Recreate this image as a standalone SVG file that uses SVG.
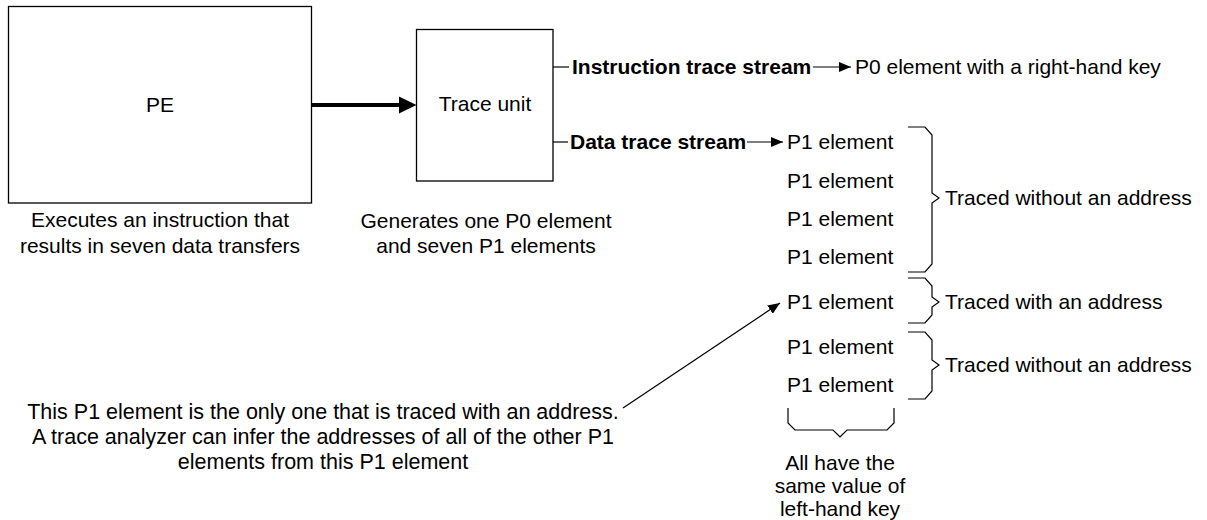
<svg xmlns="http://www.w3.org/2000/svg" width="1207" height="520" viewBox="0 0 1207 520">
  <style>
    text { font-family: "Liberation Sans", Arial, sans-serif; font-size: 21px; fill: #000; }
    .b { font-weight: bold; }
    .m { text-anchor: middle; }
    .n { font-size: 21.5px; }
    .box { fill: #fff; stroke: #000; stroke-width: 1.3; }
    .ln { fill: none; stroke: #000; stroke-width: 1.2; }
    .br { fill: none; stroke: #000; stroke-width: 1.2; stroke-linejoin: miter; }
  </style>
  <defs>
    <marker id="ah" viewBox="0 0 12 10" refX="12" refY="5" markerWidth="12" markerHeight="10" markerUnits="userSpaceOnUse" orient="auto">
      <path d="M0,0 L12,5 L0,10 z" fill="#000"/>
    </marker>
  </defs>
  <rect width="1207" height="520" fill="#fff"/>

  <g id="pe">
    <rect class="box" x="8.5" y="6.5" width="303" height="196.5"/>
    <text class="m" x="160" y="112">PE</text>
    <text class="m" x="160" y="227">Executes an instruction that</text>
    <text class="m" x="160" y="253">results in seven data transfers</text>
  </g>

  <g id="trace-unit">
    <rect class="box" x="416.5" y="29.5" width="136.5" height="151.5"/>
    <text class="m" x="485" y="111">Trace unit</text>
    <text class="m" x="486" y="228">Generates one P0 element</text>
    <text class="m" x="486" y="253">and seven P1 elements</text>
  </g>

  <g id="streams">
    <text class="b" x="572" y="74">Instruction trace stream</text>
    <text x="855" y="74">P0 element with a right-hand key</text>
    <text class="b" x="570" y="149">Data trace stream</text>
  </g>

  <g id="p1-elements">
    <text x="787" y="149">P1 element</text>
    <text x="787" y="188">P1 element</text>
    <text x="787" y="226">P1 element</text>
    <text x="787" y="264">P1 element</text>
    <text x="787" y="309">P1 element</text>
    <text x="787" y="354">P1 element</text>
    <text x="787" y="392">P1 element</text>
  </g>

  <g id="brace-labels">
    <path class="br" d="M908,127 H925 L932,135 V193 L939,198 L932,203 V264 L925,272 H908"/>
    <text x="945" y="205">Traced without an address</text>
    <path class="br" d="M908,278 H925 L932,286 V297 L939,302 L932,307 V315 L925,323 H908"/>
    <text x="945" y="309">Traced with an address</text>
    <path class="br" d="M908,332 H925 L932,340 V360 L939,365 L932,370 V391 L925,399 H908"/>
    <text x="945" y="372">Traced without an address</text>
    <path class="br" d="M788,408 V423 L795,430 H833 L840,437 L847,430 H887 L894,423 V408"/>
    <text class="m" x="840" y="470">All have the</text>
    <text class="m" x="840" y="493">same value of</text>
    <text class="m" x="840" y="516">left-hand key</text>
  </g>

  <g id="note">
    <text class="m n" x="323" y="419">This P1 element is the only one that is traced with an address.</text>
    <text class="m n" x="323" y="444">A trace analyzer can infer the addresses of all of the other P1</text>
    <text class="m n" x="323" y="469">elements from this P1 element</text>
  </g>

  <g id="connectors">
    <line x1="311.5" y1="105" x2="400" y2="105" stroke="#000" stroke-width="4"/>
    <path d="M399,96.5 L416.5,105 L399,113.5 z" fill="#000"/>
    <line class="ln" x1="553" y1="67" x2="569" y2="67"/>
    <line class="ln" x1="553" y1="142" x2="568" y2="142"/>
    <line class="ln" x1="813" y1="67" x2="851" y2="67" marker-end="url(#ah)"/>
    <line class="ln" x1="747" y1="142" x2="783" y2="142" marker-end="url(#ah)"/>
    <line class="ln" x1="623" y1="408" x2="780" y2="303" marker-end="url(#ah)"/>
  </g>
</svg>
